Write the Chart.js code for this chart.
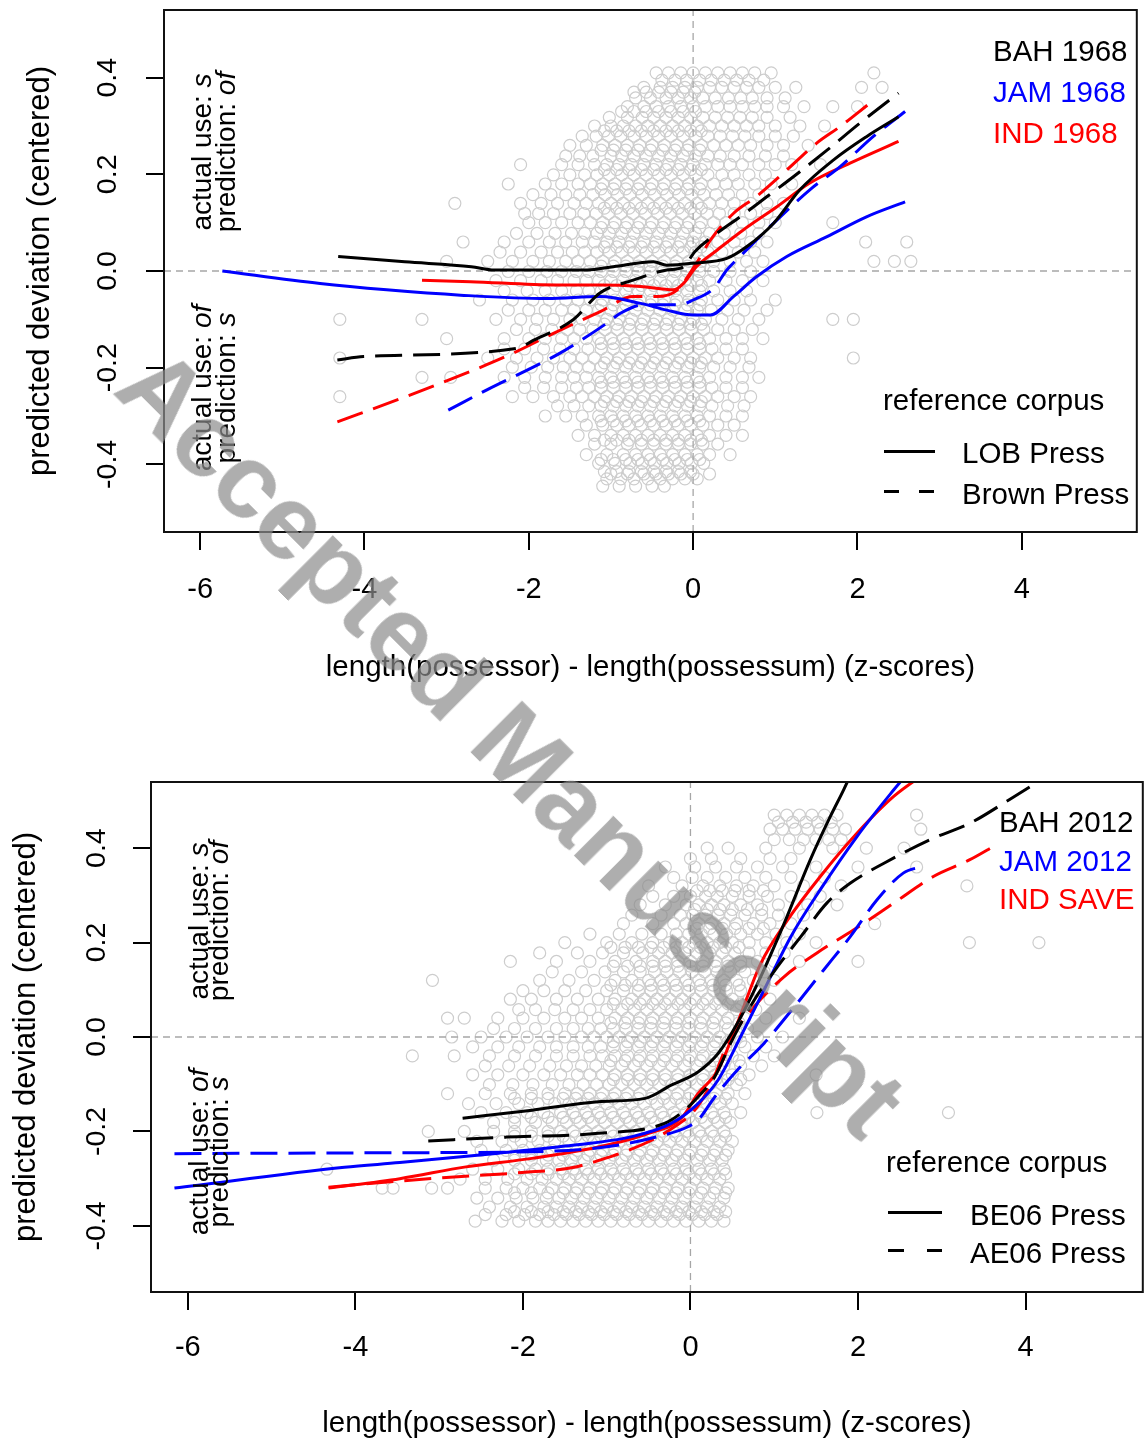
<!DOCTYPE html>
<html><head><meta charset="utf-8">
<script src="https://cdn.jsdelivr.net/npm/chart.js@4.4.1/dist/chart.umd.min.js"></script>
<style>
html,body{margin:0;padding:0;background:#fff;}
#wrap{position:relative;width:1144px;height:1447px;overflow:hidden;background:#fff;}
canvas{position:absolute;left:0;}
.t{position:absolute;font-family:'Liberation Sans',Arial,Helvetica,sans-serif;white-space:nowrap;line-height:1;color:#000;}
.rot{transform:translate(-50%,-50%) rotate(-90deg);font-size:28px;}
.lg{font-size:29.5px;}
.seg{position:absolute;height:3px;background:#000;}
#wm{font-weight:bold;font-size:105px;color:rgba(140,140,140,0.70);transform:translate(-50%,-50%) rotate(45deg);}
</style></head>
<body><div id="wrap">
<canvas id="c1" width="1144" height="740" style="top:0"></canvas>
<canvas id="c2" width="1150" height="707" style="top:740px"></canvas>

<div class="t rot" style="left:202px;top:152px">actual use: <i>s</i></div>
<div class="t rot" style="left:226px;top:152px">prediction: <i>of</i></div>
<div class="t rot" style="left:202px;top:388px">actual use: <i>of</i></div>
<div class="t rot" style="left:226px;top:388px">prediction: <i>s</i></div>

<div class="t rot" style="left:199px;top:921px">actual use: <i>s</i></div>
<div class="t rot" style="left:219px;top:921px">prediction: <i>of</i></div>
<div class="t rot" style="left:199px;top:1152px">actual use: <i>of</i></div>
<div class="t rot" style="left:219px;top:1152px">prediction: <i>s</i></div>

<div class="t lg" style="left:993px;top:35.6px;color:#000">BAH 1968</div>
<div class="t lg" style="left:993px;top:76.6px;color:#0000ff">JAM 1968</div>
<div class="t lg" style="left:993px;top:117.6px;color:#ff0000">IND 1968</div>
<div class="t lg" style="left:883px;top:385px">reference corpus</div>
<div class="seg" style="left:884px;top:449.5px;width:51px"></div>
<div class="t lg" style="left:962px;top:438.4px">LOB Press</div>
<div class="seg" style="left:884px;top:489.5px;width:15px"></div>
<div class="seg" style="left:919px;top:489.5px;width:15px"></div>
<div class="t lg" style="left:962px;top:478.6px">Brown Press</div>

<div class="t lg" style="left:999px;top:806.6px;color:#000">BAH 2012</div>
<div class="t lg" style="left:999px;top:845.6px;color:#0000ff">JAM 2012</div>
<div class="t lg" style="left:999px;top:883.6px;color:#ff0000">IND SAVE</div>
<div class="t lg" style="left:886px;top:1147.3px">reference corpus</div>
<div class="seg" style="left:888px;top:1210.5px;width:54px"></div>
<div class="t lg" style="left:970px;top:1200px">BE06 Press</div>
<div class="seg" style="left:888px;top:1248.5px;width:16px"></div>
<div class="seg" style="left:927px;top:1248.5px;width:15px"></div>
<div class="t lg" style="left:970px;top:1237.6px">AE06 Press</div>

<div id="wm" class="t" style="left:512px;top:742px">Accepted Manuscript</div>
</div>
<script>
// ---------- axes ----------
const xMin = -6.44, xMax = 5.40, yMin = -0.54, yMax = 0.54;
const xTickValues = [-6, -4, -2, 0, 2, 4];
const xTickLabels = ['-6', '-4', '-2', '0', '2', '4'];
const yTickValues = [-0.4, -0.2, 0, 0.2, 0.4];
const yTickLabels = ['-0.4', '-0.2', '0.0', '0.2', '0.4'];
const xTitle = 'length(possessor) - length(possessum) (z-scores)';
const yTitle = 'predicted deviation (centered)';

// ---------- top panel (1968) ----------
const bah1968LobX = [-4.32,-3.51,-2.70,-2.42,-1.29,-0.97,-0.48,-0.32,0.0,0.41,0.65,0.98,1.30,1.71,2.11,2.50];
const bah1968LobY = [0.030,0.019,0.009,0.002,0.002,0.009,0.019,0.012,0.016,0.026,0.050,0.099,0.168,0.230,0.278,0.319];
const bah1968BrownX = [-4.33,-4.01,-2.14,-1.94,-1.46,-1.13,-0.73,-0.32,-0.12,0.02,0.29,0.57,0.90,1.22,1.63,2.03,2.50];
const bah1968BrownY = [-0.184,-0.177,-0.160,-0.143,-0.101,-0.045,-0.019,0.002,0.008,0.040,0.078,0.112,0.154,0.195,0.250,0.306,0.368];
const jam1968LobX = [-5.73,-4.54,-3.73,-2.83,-1.78,-1.13,-0.64,-0.32,0.0,0.21,0.49,0.77,1.14,1.63,2.11,2.58];
const jam1968LobY = [0.0,-0.026,-0.039,-0.050,-0.057,-0.053,-0.067,-0.081,-0.091,-0.091,-0.053,-0.012,0.030,0.071,0.112,0.143];
const jam1968BrownX = [-2.98,-2.51,-2.02,-1.62,-1.05,-0.89,-0.60,-0.16,0.0,0.25,0.41,0.57,0.98,1.42,1.79,2.19,2.58];
const jam1968BrownY = [-0.288,-0.246,-0.205,-0.170,-0.108,-0.088,-0.070,-0.070,-0.060,-0.036,0.002,0.030,0.099,0.168,0.216,0.278,0.330];
const ind1968LobX = [-3.30,-2.71,-1.66,-1.13,-0.64,-0.24,-0.12,0.04,0.29,0.61,1.02,1.42,1.91,2.50];
const ind1968LobY = [-0.019,-0.022,-0.029,-0.029,-0.032,-0.039,-0.026,0.009,0.043,0.085,0.133,0.182,0.223,0.268];
const ind1968BrownX = [-4.33,-3.56,-2.67,-2.19,-1.70,-1.13,-0.73,-0.44,-0.20,0.04,0.21,0.49,0.77,1.14,1.50,1.79,2.15];
const ind1968BrownY = [-0.312,-0.264,-0.205,-0.170,-0.129,-0.084,-0.053,-0.053,-0.040,0.016,0.064,0.119,0.154,0.209,0.264,0.299,0.347];

// observed points, top panel: [y, x values in that row]
const topCloudRows = [
 [0.41, [-0.45,-0.3,-0.15,0,0.15,0.3,0.45,0.6,0.75,0.95,2.2]],
 [0.395, [-0.38,-0.22,-0.08,0.08,0.22,0.38,0.53,0.68,0.86]],
 [0.38, [-0.6,-0.4,-0.25,-0.1,0.05,0.2,0.35,0.5,0.65,0.8,1.0,1.25,2.05,2.3]],
 [0.37, [-0.72,-0.57,-0.42,-0.27,-0.12,0.02]],
 [0.358, [-0.7,-0.52,-0.33,-0.18,-0.03,0.12,0.27,0.43,0.58,0.72,0.9,1.12]],
 [0.34, [-0.8,-0.6,-0.45,-0.3,-0.15,0,0.15,0.3,0.45,0.6,0.75,0.9,1.1,1.35,1.7,2.0]],
 [0.33, [-0.87,-0.72,-0.57,-0.42,-0.27,-0.12,0.03]],
 [0.318, [-1.02,-0.8,-0.62,-0.48,-0.33,-0.18,-0.03,0.12,0.27,0.42,0.57,0.72,0.9,1.18]],
 [0.30, [-1.2,-1.0,-0.85,-0.7,-0.55,-0.4,-0.25,-0.1,0.05,0.2,0.35,0.5,0.65,0.8,1.0,1.3,1.6]],
 [0.29, [-1.08,-0.93,-0.78,-0.63,-0.48,-0.33,-0.18,-0.03,0.1]],
 [0.279, [-1.35,-1.18,-1.03,-0.88,-0.72,-0.57,-0.42,-0.27,-0.12,0.03,0.18,0.33,0.48,0.63,0.8,1.0,1.22]],
 [0.26, [-1.5,-1.3,-1.1,-0.95,-0.8,-0.65,-0.5,-0.35,-0.2,-0.05,0.1,0.25,0.4,0.55,0.7,0.9,1.1,1.4]],
 [0.25, [-1.12,-0.97,-0.82,-0.67,-0.52,-0.37,-0.22,-0.07,0.08]],
 [0.238, [-1.55,-1.38,-1.22,-1.0,-0.87,-0.72,-0.57,-0.42,-0.27,-0.12,0.03,0.18,0.33,0.5,0.68,0.88,1.1]],
 [0.22, [-2.1,-1.6,-1.4,-1.2,-1.05,-0.9,-0.75,-0.6,-0.45,-0.3,-0.15,0,0.15,0.3,0.45,0.6,0.8,1.0,1.2,1.55]],
 [0.21, [-1.08,-0.93,-0.78,-0.63,-0.48,-0.33,-0.18,-0.03,0.1]],
 [0.199, [-1.7,-1.5,-1.32,-1.17,-1.02,-0.87,-0.72,-0.57,-0.42,-0.27,-0.12,0.03,0.18,0.35,0.5,0.68,0.88]],
 [0.18, [-2.25,-1.8,-1.6,-1.4,-1.25,-1.1,-0.95,-0.8,-0.65,-0.5,-0.35,-0.2,-0.05,0.1,0.25,0.4,0.55,0.75,0.95,1.2]],
 [0.17, [-1.12,-0.97,-0.82,-0.67,-0.52,-0.37,-0.22,-0.07,0.08]],
 [0.158, [-1.95,-1.73,-1.55,-1.38,-1.22,-1.07,-0.92,-0.77,-0.62,-0.47,-0.32,-0.17,-0.02,0.13,0.28,0.43,0.6,0.8]],
 [0.14, [-2.9,-2.1,-1.85,-1.65,-1.45,-1.3,-1.15,-1.0,-0.85,-0.7,-0.55,-0.4,-0.25,-0.1,0.05,0.2,0.35,0.5,0.7,0.9,1.1]],
 [0.13, [-1.08,-0.93,-0.78,-0.63,-0.48,-0.33,-0.18,-0.03,0.1]],
 [0.119, [-2.05,-1.88,-1.7,-1.5,-1.33,-1.18,-1.03,-0.88,-0.73,-0.58,-0.43,-0.28,-0.13,0.02,0.17,0.32,0.5,0.7,0.9]],
 [0.10, [-2.0,-1.8,-1.6,-1.4,-1.25,-1.1,-0.95,-0.8,-0.65,-0.5,-0.35,-0.2,-0.05,0.1,0.25,0.4,0.6,0.8,1.0,1.7]],
 [0.09, [-1.12,-0.97,-0.82,-0.67,-0.52,-0.37,-0.22,-0.07,0.08]],
 [0.078, [-2.15,-1.9,-1.68,-1.48,-1.32,-1.17,-1.02,-0.87,-0.72,-0.57,-0.42,-0.27,-0.12,0.03,0.2,0.38,0.58,0.8]],
 [0.06, [-2.8,-2.3,-2.0,-1.75,-1.55,-1.35,-1.2,-1.05,-0.9,-0.75,-0.6,-0.45,-0.3,-0.15,0,0.15,0.3,0.5,0.7,0.9,2.1,2.6]],
 [0.05, [-1.08,-0.93,-0.78,-0.63,-0.48,-0.33,-0.18,-0.03,0.1]],
 [0.039, [-2.35,-2.1,-1.85,-1.65,-1.47,-1.32,-1.17,-1.02,-0.87,-0.72,-0.57,-0.42,-0.27,-0.12,0.03,0.18,0.35,0.55,0.75]],
 [0.02, [-3.0,-2.5,-2.2,-1.95,-1.75,-1.55,-1.4,-1.25,-1.1,-0.95,-0.8,-0.65,-0.5,-0.35,-0.2,-0.05,0.1,0.25,0.45,0.65,0.85,2.2,2.45,2.65]],
 [0.01, [-1.12,-0.97,-0.82,-0.67,-0.52,-0.37,-0.22,-0.07,0.08]],
 [-0.001, [-2.25,-2.0,-1.78,-1.6,-1.42,-1.27,-1.12,-0.97,-0.82,-0.67,-0.52,-0.37,-0.22,-0.07,0.08,0.25,0.45,0.7]],
 [-0.02, [-2.4,-2.1,-1.85,-1.65,-1.45,-1.3,-1.15,-1.0,-0.85,-0.7,-0.55,-0.4,-0.25,-0.1,0.05,0.2,0.4,0.6,0.85]],
 [-0.03, [-1.08,-0.93,-0.78,-0.63,-0.48,-0.33,-0.18,-0.03,0.1]],
 [-0.041, [-2.3,-2.02,-1.8,-1.6,-1.42,-1.27,-1.12,-0.97,-0.82,-0.67,-0.52,-0.37,-0.22,-0.07,0.08,0.25,0.45,0.65]],
 [-0.06, [-2.6,-2.2,-1.95,-1.75,-1.55,-1.4,-1.25,-1.1,-0.95,-0.8,-0.65,-0.5,-0.35,-0.2,-0.05,0.1,0.3,0.5,0.7,1.0]],
 [-0.07, [-1.12,-0.97,-0.82,-0.67,-0.52,-0.37,-0.22,-0.07,0.08]],
 [-0.081, [-2.25,-2.0,-1.8,-1.6,-1.45,-1.3,-1.15,-1.0,-0.85,-0.7,-0.55,-0.4,-0.25,-0.1,0.05,0.22,0.42,0.62,0.9]],
 [-0.10, [-4.3,-3.3,-2.4,-2.1,-1.9,-1.7,-1.5,-1.35,-1.2,-1.05,-0.9,-0.75,-0.6,-0.45,-0.3,-0.15,0,0.15,0.35,0.55,0.8,1.7,1.95]],
 [-0.11, [-1.08,-0.93,-0.78,-0.63,-0.48,-0.33,-0.18,-0.03,0.1]],
 [-0.121, [-2.15,-1.92,-1.72,-1.53,-1.38,-1.22,-1.07,-0.92,-0.77,-0.62,-0.47,-0.32,-0.17,-0.02,0.13,0.3,0.5,0.72]],
 [-0.14, [-3.0,-2.3,-2.0,-1.8,-1.6,-1.45,-1.3,-1.15,-1.0,-0.85,-0.7,-0.55,-0.4,-0.25,-0.1,0.05,0.2,0.4,0.6,0.85]],
 [-0.15, [-1.12,-0.97,-0.82,-0.67,-0.52,-0.37,-0.22,-0.07,0.08]],
 [-0.161, [-2.3,-2.05,-1.82,-1.62,-1.45,-1.28,-1.12,-0.97,-0.82,-0.67,-0.52,-0.37,-0.22,-0.07,0.08,0.23,0.4,0.6]],
 [-0.18, [-4.3,-2.5,-2.15,-1.9,-1.7,-1.5,-1.35,-1.2,-1.05,-0.9,-0.75,-0.6,-0.45,-0.3,-0.15,0,0.15,0.3,0.5,0.7,1.95]],
 [-0.19, [-1.08,-0.93,-0.78,-0.63,-0.48,-0.33,-0.18,-0.03,0.1]],
 [-0.199, [-2.2,-1.97,-1.77,-1.58,-1.42,-1.27,-1.12,-0.97,-0.82,-0.67,-0.52,-0.37,-0.22,-0.07,0.08,0.25,0.45,0.68]],
 [-0.22, [-3.3,-2.95,-2.3,-2.05,-1.8,-1.6,-1.45,-1.3,-1.15,-1.0,-0.85,-0.7,-0.55,-0.4,-0.25,-0.1,0.05,0.2,0.4,0.6,0.8]],
 [-0.23, [-1.12,-0.97,-0.82,-0.67,-0.52,-0.37,-0.22,-0.07,0.08]],
 [-0.241, [-2.05,-1.82,-1.6,-1.42,-1.27,-1.12,-0.97,-0.82,-0.67,-0.52,-0.37,-0.22,-0.07,0.08,0.23,0.4,0.6]],
 [-0.26, [-4.3,-2.2,-1.95,-1.7,-1.5,-1.35,-1.2,-1.05,-0.9,-0.75,-0.6,-0.45,-0.3,-0.15,0,0.15,0.3,0.5,0.7]],
 [-0.27, [-1.08,-0.93,-0.78,-0.63,-0.48,-0.33,-0.18,-0.03,0.1]],
 [-0.279, [-1.65,-1.45,-1.27,-1.12,-0.97,-0.82,-0.67,-0.52,-0.37,-0.22,-0.07,0.08,0.23,0.42,0.62]],
 [-0.30, [-1.8,-1.55,-1.35,-1.15,-1.0,-0.85,-0.7,-0.55,-0.4,-0.25,-0.1,0.05,0.2,0.4,0.6]],
 [-0.31, [-1.12,-0.97,-0.82,-0.67,-0.52,-0.37,-0.22,-0.07,0.08]],
 [-0.319, [-1.3,-1.1,-0.93,-0.78,-0.63,-0.48,-0.33,-0.18,-0.03,0.12,0.3,0.5]],
 [-0.34, [-1.4,-1.2,-1.0,-0.85,-0.7,-0.55,-0.4,-0.25,-0.1,0.05,0.2,0.4,0.6]],
 [-0.35, [-1.08,-0.93,-0.78,-0.63,-0.48,-0.33,-0.18,-0.03,0.1]],
 [-0.358, [-1.2,-1.0,-0.8,-0.63,-0.48,-0.33,-0.18,-0.03,0.12,0.3]],
 [-0.38, [-1.3,-1.05,-0.85,-0.7,-0.55,-0.4,-0.25,-0.1,0.05,0.2,0.45]],
 [-0.39, [-1.12,-0.97,-0.82,-0.67,-0.52,-0.37,-0.22,-0.07,0.08]],
 [-0.398, [-1.15,-0.95,-0.77,-0.62,-0.47,-0.32,-0.17,-0.02,0.13]],
 [-0.415, [-1.08,-0.93,-0.78,-0.63,-0.48,-0.33,-0.18,-0.03]],
 [-0.42, [-1.0,-0.8,-0.6,-0.45,-0.3,-0.15,0,0.2]],
 [-0.43, [-1.05,-0.88,-0.72,-0.55,-0.4,-0.25,-0.1,0.05]],
 [-0.445, [-1.1,-0.9,-0.7,-0.5,-0.35]]
];

// ---------- bottom panel (2012) ----------
const bah2012Be06X = [-2.72,-1.89,-1.10,-0.54,-0.23,0.09,0.33,0.56,0.84,1.12,1.43,1.67,1.83,1.95];
const bah2012Be06Y = [-0.172,-0.155,-0.137,-0.130,-0.102,-0.074,-0.035,0.029,0.128,0.241,0.375,0.467,0.524,0.570];
const bah2012Ae06X = [-3.13,-2.20,-1.10,-0.31,-0.07,0.09,0.29,0.48,0.76,1.04,1.32,1.63,1.91,2.31,2.86,3.34,3.81,4.19];
const bah2012Ae06Y = [-0.220,-0.212,-0.204,-0.183,-0.155,-0.127,-0.084,-0.013,0.078,0.149,0.213,0.284,0.326,0.368,0.418,0.453,0.503,0.545];
const jam2012Be06X = [-6.16,-4.13,-3.47,-2.29,-1.49,-0.70,-0.23,0.09,0.33,0.60,0.88,1.20,1.55,1.99,2.43,2.60];
const jam2012Be06Y = [-0.320,-0.276,-0.266,-0.246,-0.231,-0.211,-0.183,-0.141,-0.091,0.001,0.100,0.213,0.312,0.425,0.524,0.560];
const jam2012Ae06X = [-6.16,-3.38,-1.89,-1.02,-0.39,-0.03,0.09,0.29,0.56,0.88,1.24,1.59,1.91,2.23,2.54,2.76];
const jam2012Ae06Y = [-0.247,-0.245,-0.243,-0.233,-0.211,-0.190,-0.176,-0.127,-0.070,-0.013,0.064,0.142,0.213,0.291,0.347,0.361];
const indSaveBe06X = [-4.32,-3.47,-2.68,-1.89,-1.10,-0.50,-0.11,0.09,0.33,0.56,0.84,1.16,1.55,1.99,2.43,2.90];
const indSaveBe06Y = [-0.320,-0.300,-0.275,-0.257,-0.233,-0.204,-0.172,-0.120,-0.070,0.029,0.156,0.248,0.340,0.432,0.510,0.570];
const indSaveAe06X = [-4.32,-3.47,-2.96,-2.01,-1.42,-1.02,-0.54,-0.19,0.05,0.25,0.45,0.76,1.12,1.51,1.95,2.43,2.90,3.33,3.65];
const indSaveAe06Y = [-0.318,-0.305,-0.298,-0.287,-0.277,-0.257,-0.225,-0.190,-0.155,-0.098,-0.013,0.064,0.128,0.178,0.227,0.284,0.340,0.375,0.407];

const bottomCloudRows = [
 [0.47, [1.0,1.15,1.3,1.45,1.6,1.75,2.7]],
 [0.455, [1.05,1.22,1.38,1.52,1.68]],
 [0.44, [0.95,1.1,1.25,1.4,1.55,1.7,1.85,2.75]],
 [0.418, [1.0,1.18,1.35,1.5,1.65,1.8]],
 [0.40, [0.2,0.45,0.9,1.3,1.7,2.1,2.55]],
 [0.378, [0.0,0.25,0.6,0.95,1.2]],
 [0.36, [-0.3,0.05,0.3,0.55,0.8,1.1,1.5,2.0,2.7]],
 [0.338, [-0.2,0.02,0.2,0.42,0.65,0.9,1.2,1.6]],
 [0.32, [-0.5,-0.1,0.15,0.35,0.55,0.75,1.0,1.35,1.8,3.3]],
 [0.31, [0.08,0.23,0.38,0.53,0.7,0.87]],
 [0.298, [-0.45,-0.2,0.0,0.18,0.32,0.5,0.7,0.92,1.2,1.55]],
 [0.28, [-0.6,-0.3,-0.05,0.1,0.25,0.4,0.6,0.8,1.05,1.4,1.75]],
 [0.27, [0.05,0.2,0.35,0.5,0.68,0.85]],
 [0.258, [-0.7,-0.35,-0.12,0.03,0.18,0.33,0.48,0.65,0.85,1.05,1.35]],
 [0.24, [-0.8,-0.45,-0.2,-0.05,0.1,0.25,0.4,0.55,0.75,0.95,1.2,2.2]],
 [0.23, [0.08,0.23,0.38,0.53,0.7,0.87]],
 [0.218, [-1.2,-0.85,-0.58,-0.35,-0.17,-0.02,0.13,0.28,0.43,0.6,0.8,1.02,1.3]],
 [0.20, [-1.5,-1.0,-0.7,-0.45,-0.25,-0.1,0.05,0.2,0.35,0.5,0.7,0.9,1.15,1.5,3.33,4.16]],
 [0.19, [-0.95,-0.78,-0.62,-0.47,-0.32,-0.17,-0.02,0.12,0.27,0.42,0.58]],
 [0.178, [-1.8,-1.35,-1.05,-0.8,-0.57,-0.38,-0.22,-0.07,0.08,0.23,0.38,0.53,0.7,0.9,1.12]],
 [0.16, [-2.15,-1.6,-1.2,-0.9,-0.65,-0.45,-0.3,-0.15,0,0.15,0.3,0.45,0.6,0.8,1.0,1.3,2.0]],
 [0.15, [-0.92,-0.75,-0.6,-0.45,-0.3,-0.15,0.0,0.15,0.3,0.45,0.6]],
 [0.138, [-1.65,-1.3,-1.02,-0.8,-0.6,-0.43,-0.28,-0.13,0.02,0.17,0.32,0.48,0.65,0.88]],
 [0.12, [-3.08,-1.8,-1.45,-1.15,-0.9,-0.7,-0.5,-0.35,-0.2,-0.05,0.1,0.25,0.4,0.55,0.75,1.0]],
 [0.11, [-0.95,-0.78,-0.62,-0.47,-0.32,-0.17,-0.02,0.12,0.27,0.42,0.58]],
 [0.098, [-2.0,-1.75,-1.5,-1.25,-1.0,-0.8,-0.62,-0.47,-0.32,-0.17,-0.02,0.13,0.28,0.43,0.6,0.82]],
 [0.08, [-2.15,-1.9,-1.6,-1.35,-1.1,-0.9,-0.7,-0.55,-0.4,-0.25,-0.1,0.05,0.2,0.35,0.5,0.7,0.95]],
 [0.07, [-0.92,-0.75,-0.6,-0.45,-0.3,-0.15,0.0,0.15,0.3,0.45,0.6]],
 [0.058, [-2.05,-1.85,-1.62,-1.4,-1.2,-1.0,-0.82,-0.67,-0.52,-0.37,-0.22,-0.07,0.08,0.23,0.38,0.55,0.78]],
 [0.04, [-2.9,-2.7,-2.3,-2.0,-1.75,-1.5,-1.3,-1.1,-0.9,-0.75,-0.6,-0.45,-0.3,-0.15,0,0.15,0.3,0.45,0.65,0.9,1.3]],
 [0.03, [-0.95,-0.78,-0.62,-0.47,-0.32,-0.17,-0.02,0.12,0.27,0.42,0.58]],
 [0.018, [-2.35,-2.1,-1.85,-1.6,-1.4,-1.22,-1.07,-0.92,-0.77,-0.62,-0.47,-0.32,-0.17,-0.02,0.13,0.28,0.45,0.68]],
 [0.00, [-2.85,-2.5,-2.2,-1.95,-1.7,-1.5,-1.3,-1.15,-1.0,-0.85,-0.7,-0.55,-0.4,-0.25,-0.1,0.05,0.2,0.35,0.55,0.8,1.1]],
 [-0.01, [-0.92,-0.75,-0.6,-0.45,-0.3,-0.15,0.0,0.15,0.3,0.45,0.6]],
 [-0.021, [-2.6,-2.3,-2.05,-1.8,-1.6,-1.4,-1.22,-1.07,-0.92,-0.77,-0.62,-0.47,-0.32,-0.17,-0.02,0.13,0.28,0.42,0.65,0.9]],
 [-0.04, [-3.32,-2.82,-2.4,-2.1,-1.85,-1.6,-1.4,-1.2,-1.05,-0.9,-0.75,-0.6,-0.45,-0.3,-0.15,0,0.15,0.3,0.5,0.75,1.0]],
 [-0.05, [-0.95,-0.78,-0.62,-0.47,-0.32,-0.17,-0.02,0.12,0.27,0.42,0.58]],
 [-0.061, [-2.45,-2.17,-1.92,-1.68,-1.48,-1.3,-1.13,-0.97,-0.82,-0.67,-0.52,-0.37,-0.22,-0.07,0.08,0.23,0.4,0.6,0.85]],
 [-0.08, [-2.6,-2.3,-2.0,-1.75,-1.55,-1.35,-1.2,-1.05,-0.9,-0.75,-0.6,-0.45,-0.3,-0.15,0,0.15,0.3,0.5,0.7,1.5]],
 [-0.09, [-0.92,-0.75,-0.6,-0.45,-0.3,-0.15,0.0,0.15,0.3,0.45,0.6]],
 [-0.101, [-2.4,-2.12,-1.88,-1.65,-1.45,-1.28,-1.12,-0.97,-0.82,-0.67,-0.52,-0.37,-0.22,-0.07,0.08,0.23,0.38,0.55]],
 [-0.12, [-2.9,-2.45,-2.15,-1.9,-1.7,-1.5,-1.35,-1.2,-1.05,-0.9,-0.75,-0.6,-0.45,-0.3,-0.15,0,0.15,0.3,0.45,0.65]],
 [-0.13, [-2.1,-1.9,-1.7,-1.52,-1.37,-1.22,-1.07,-0.92,-0.77,-0.62,-0.47,-0.32,-0.17,-0.02,0.13,0.28,0.42]],
 [-0.141, [-2.65,-2.32,-2.05,-1.82,-1.62,-1.45,-1.3,-1.15,-1.0,-0.85,-0.7,-0.55,-0.4,-0.25,-0.1,0.05,0.2,0.35,0.5]],
 [-0.16, [-2.5,-2.2,-1.95,-1.75,-1.55,-1.4,-1.25,-1.1,-0.95,-0.8,-0.65,-0.5,-0.35,-0.2,-0.05,0.1,0.25,0.4,0.6,1.51,3.08]],
 [-0.17, [-2.1,-1.9,-1.7,-1.52,-1.37,-1.22,-1.07,-0.92,-0.77,-0.62,-0.47,-0.32,-0.17,-0.02,0.13,0.28,0.42]],
 [-0.181, [-2.35,-2.1,-1.85,-1.65,-1.48,-1.32,-1.17,-1.02,-0.87,-0.72,-0.57,-0.42,-0.27,-0.12,0.03,0.18,0.33,0.48]],
 [-0.20, [-3.13,-2.7,-2.35,-2.1,-1.9,-1.7,-1.55,-1.4,-1.25,-1.1,-0.95,-0.8,-0.65,-0.5,-0.35,-0.2,-0.05,0.1,0.25,0.4]],
 [-0.21, [-2.1,-1.9,-1.7,-1.52,-1.37,-1.22,-1.07,-0.92,-0.77,-0.62,-0.47,-0.32,-0.17,-0.02,0.13,0.28,0.42]],
 [-0.221, [-2.55,-2.25,-2.02,-1.82,-1.62,-1.45,-1.3,-1.15,-1.0,-0.85,-0.7,-0.55,-0.4,-0.25,-0.1,0.05,0.2,0.35,0.5]],
 [-0.24, [-2.5,-2.2,-2.0,-1.8,-1.65,-1.5,-1.35,-1.2,-1.05,-0.9,-0.75,-0.6,-0.45,-0.3,-0.15,0,0.15,0.3,0.45]],
 [-0.25, [-2.1,-1.9,-1.7,-1.52,-1.37,-1.22,-1.07,-0.92,-0.77,-0.62,-0.47,-0.32,-0.17,-0.02,0.13,0.28,0.42]],
 [-0.261, [-2.35,-2.1,-1.9,-1.72,-1.57,-1.42,-1.27,-1.12,-0.97,-0.82,-0.67,-0.52,-0.37,-0.22,-0.07,0.08,0.23,0.38]],
 [-0.28, [-4.34,-2.6,-2.3,-2.05,-1.85,-1.7,-1.55,-1.4,-1.25,-1.1,-0.95,-0.8,-0.65,-0.5,-0.35,-0.2,-0.05,0.1,0.25,0.4]],
 [-0.29, [-2.1,-1.9,-1.7,-1.52,-1.37,-1.22,-1.07,-0.92,-0.77,-0.62,-0.47,-0.32,-0.17,-0.02,0.13,0.28,0.42]],
 [-0.301, [-2.75,-2.45,-2.18,-1.95,-1.77,-1.6,-1.45,-1.3,-1.15,-1.0,-0.85,-0.7,-0.55,-0.4,-0.25,-0.1,0.05,0.2,0.35]],
 [-0.32, [-3.68,-3.55,-3.09,-2.9,-2.45,-2.2,-2.0,-1.8,-1.65,-1.5,-1.35,-1.2,-1.05,-0.9,-0.75,-0.6,-0.45,-0.3,-0.15,0,0.15,0.3,0.45]],
 [-0.33, [-2.1,-1.9,-1.7,-1.52,-1.37,-1.22,-1.07,-0.92,-0.77,-0.62,-0.47,-0.32,-0.17,-0.02,0.13,0.28,0.42]],
 [-0.341, [-2.55,-2.3,-2.08,-1.88,-1.72,-1.57,-1.42,-1.27,-1.12,-0.97,-0.82,-0.67,-0.52,-0.37,-0.22,-0.07,0.08,0.23,0.4]],
 [-0.36, [-2.4,-2.15,-1.95,-1.75,-1.6,-1.45,-1.3,-1.15,-1.0,-0.85,-0.7,-0.55,-0.4,-0.25,-0.1,0.05,0.2,0.35]],
 [-0.37, [-2.1,-1.9,-1.7,-1.52,-1.37,-1.22,-1.07,-0.92,-0.77,-0.62,-0.47,-0.32,-0.17,-0.02,0.13,0.28,0.42]],
 [-0.376, [-2.45,-2.2,-1.98,-1.8,-1.63,-1.48,-1.33,-1.18,-1.03,-0.88,-0.73,-0.58,-0.43,-0.28,-0.13,0.02,0.17,0.32]],
 [-0.39, [-2.57,-2.25,-2.05,-1.85,-1.7,-1.55,-1.4,-1.25,-1.1,-0.95,-0.8,-0.65,-0.5,-0.35,-0.2,-0.05,0.1,0.25,0.4]]
];

// ---------- helpers ----------
const BLACK = '#000000', BLUE = '#0000ff', RED = '#ff0000';
const FONT = "'Liberation Sans', Arial, Helvetica, sans-serif";
Chart.defaults.font.family = FONT;
Chart.defaults.color = '#000';

function pts(xs, ys) { return xs.map((x, i) => ({x: x, y: ys[i]})); }
function cloud(rows) { const out = []; rows.forEach(r => r[1].forEach(x => out.push({x: x, y: r[0]}))); return out; }
function curve(label, xs, ys, color, dashed) {
  return {label, data: pts(xs, ys), showLine: true, borderColor: color, backgroundColor: color,
    borderWidth: 3, borderDash: dashed ? [27, 11] : [], pointRadius: 0, cubicInterpolationMode: 'monotone', fill: false};
}
function refLines() {
  const c = '#a6a6a6';
  return [
    {label: 'h0', data: [{x: xMin, y: 0}, {x: xMax, y: 0}], showLine: true, borderColor: c, borderWidth: 1.3, borderDash: [7, 5], pointRadius: 0},
    {label: 'v0', data: [{x: 0, y: yMin}, {x: 0, y: yMax}], showLine: true, borderColor: c, borderWidth: 1.3, borderDash: [7, 5], pointRadius: 0}
  ];
}
function cloudDs(rows) {
  return {label: 'obs', data: cloud(rows), showLine: false, pointRadius: 6, pointBorderWidth: 1.2,
    pointBorderColor: '#cdcdcd', pointBackgroundColor: 'rgba(0,0,0,0)'};
}
const boxPlugin = {id: 'box', afterDraw(chart) {
  const {ctx, chartArea: a} = chart; ctx.save(); ctx.strokeStyle = '#111'; ctx.lineWidth = 2;
  ctx.strokeRect(a.left, a.top, a.right - a.left, a.bottom - a.top); ctx.restore(); }};

function makeChart(id, datasets, g) {
  return new Chart(document.getElementById(id), {
    type: 'scatter',
    data: {datasets},
    options: {
      responsive: false, animation: false, devicePixelRatio: 1, events: [],
      layout: {padding: {left: 0, top: g.top, right: g.right, bottom: 0}},
      plugins: {legend: {display: false}, tooltip: {enabled: false}},
      scales: {
        x: {type: 'linear', position: 'bottom', min: xMin, max: xMax,
          afterBuildTicks: s => { s.ticks = xTickValues.map(v => ({value: v})); },
          afterFit: s => { s.height = g.xH; s.paddingLeft = 0; s.paddingRight = 0; s.paddingTop = 0; s.paddingBottom = 0; },
          grid: {drawOnChartArea: false, drawTicks: true, tickLength: 18, tickColor: '#000', tickWidth: 2, color: '#000', lineWidth: 2},
          border: {display: false},
          ticks: {autoSkip: false, maxRotation: 0, minRotation: 0, padding: g.xTickPad, color: '#000', font: {size: 29},
            callback: v => xTickLabels[xTickValues.indexOf(v)]},
          title: {display: true, text: xTitle, color: '#000', font: {size: 29.5}, padding: {top: 0, bottom: g.xTitlePad}}
        },
        y: {type: 'linear', position: 'left', min: yMin, max: yMax,
          afterBuildTicks: s => { s.ticks = yTickValues.map(v => ({value: v})); },
          afterFit: s => { s.width = g.yW; s.paddingLeft = 0; s.paddingRight = 0; s.paddingTop = 0; s.paddingBottom = 0; },
          grid: {drawOnChartArea: false, drawTicks: true, tickLength: 18, tickColor: '#000', tickWidth: 2, color: '#000', lineWidth: 2},
          border: {display: false},
          ticks: {autoSkip: false, minRotation: 90, maxRotation: 90, crossAlign: 'center', padding: g.yTickPad, color: '#000', font: {size: 28.5},
            callback: v => yTickLabels[yTickValues.indexOf(v)]},
          title: {display: true, text: yTitle, color: '#000', font: {size: 31}, padding: {top: g.yTitlePad, bottom: 0}}
        }
      }
    },
    plugins: [boxPlugin]
  });
}

const topSets = [
  curve('BAH 1968 / LOB Press', bah1968LobX, bah1968LobY, BLACK, false),
  curve('BAH 1968 / Brown Press', bah1968BrownX, bah1968BrownY, BLACK, true),
  curve('JAM 1968 / LOB Press', jam1968LobX, jam1968LobY, BLUE, false),
  curve('JAM 1968 / Brown Press', jam1968BrownX, jam1968BrownY, BLUE, true),
  curve('IND 1968 / LOB Press', ind1968LobX, ind1968LobY, RED, false),
  curve('IND 1968 / Brown Press', ind1968BrownX, ind1968BrownY, RED, true),
  ...refLines(),
  cloudDs(topCloudRows)
];
const bottomSets = [
  curve('BAH 2012 / BE06 Press', bah2012Be06X, bah2012Be06Y, BLACK, false),
  curve('BAH 2012 / AE06 Press', bah2012Ae06X, bah2012Ae06Y, BLACK, true),
  curve('JAM 2012 / BE06 Press', jam2012Be06X, jam2012Be06Y, BLUE, false),
  curve('JAM 2012 / AE06 Press', jam2012Ae06X, jam2012Ae06Y, BLUE, true),
  curve('IND SAVE / BE06 Press', indSaveBe06X, indSaveBe06Y, RED, false),
  curve('IND SAVE / AE06 Press', indSaveAe06X, indSaveAe06Y, RED, true),
  ...refLines(),
  cloudDs(bottomCloudRows)
];

makeChart('c1', topSets, {top: 10, right: 7, xH: 208, yW: 164, xTickPad: 22.6, xTitlePad: 54.3, yTickPad: 13.4, yTitlePad: 21.8});
makeChart('c2', bottomSets, {top: 42, right: 4, xH: 155, yW: 151, xTickPad: 20.6, xTitlePad: 5.3, yTickPad: 11.4, yTitlePad: 7.8});
</script>
</body></html>
